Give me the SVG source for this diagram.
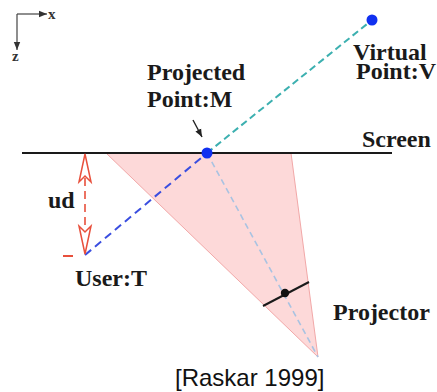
<svg xmlns="http://www.w3.org/2000/svg" width="437" height="392" viewBox="0 0 437 392">
<defs>
<style>
.lbl{font-family:"Liberation Serif","Times New Roman",serif;font-weight:bold;font-size:24px;fill:#1a1a1a}
.ax{font-family:"Liberation Serif","Times New Roman",serif;font-weight:bold;font-size:15px;fill:#333}
.cite{font-family:"Liberation Sans",Arial,sans-serif;font-size:24px;fill:#111}
.dot{fill:#1030f0}
</style>
<marker id="ah" viewBox="0 0 10 10" refX="10" refY="5" markerWidth="8" markerHeight="8" markerUnits="userSpaceOnUse" orient="auto">
<path d="M0,1 L10,5 L0,9 Z" fill="#333"/>
</marker>
<marker id="ptr" viewBox="0 0 10 10" refX="10" refY="5" markerWidth="8" markerHeight="8" markerUnits="userSpaceOnUse" orient="auto">
<path d="M0,1 L10,5 L0,9 Z" fill="#222"/>
</marker>
</defs>

<g id="axes">
<line x1="17" y1="14" x2="47" y2="14" stroke="#444" stroke-width="1.2" marker-end="url(#ah)"/>
<line x1="17" y1="14" x2="17" y2="50" stroke="#444" stroke-width="1.2" marker-end="url(#ah)"/>
<text class="ax" x="48" y="19">x</text>
<text class="ax" x="12" y="61">z</text>
</g>

<g id="projector-frustum">
<polygon points="106,153 291,153 318,357" fill="#fdd9d9" stroke="#f2a8a8" stroke-width="1"/>
</g>

<g id="screen">
<line x1="22" y1="153" x2="392" y2="153" stroke="#1a1a1a" stroke-width="2.2"/>
<text class="lbl" x="362" y="147">Screen</text>
</g>

<g id="connectors">
<line x1="207" y1="153" x2="372" y2="20" stroke="#3cb0b0" stroke-width="2" stroke-dasharray="7,4"/>
<line x1="85" y1="255" x2="207" y2="153" stroke="#3a4ee0" stroke-width="2" stroke-dasharray="8,5"/>
<line x1="207" y1="153" x2="318" y2="357" stroke="#a9c3e2" stroke-width="1.6" stroke-dasharray="6,4"/>
<line x1="193" y1="120" x2="202" y2="137" stroke="#222" stroke-width="1.4" marker-end="url(#ptr)"/>
</g>

<g id="ud-measure">
<line x1="85" y1="178" x2="85" y2="230" stroke="#e8503c" stroke-width="1.6" stroke-dasharray="8,5"/>
<path d="M85,154 L91,182 L85,176 L79,182 Z" fill="#fff" stroke="#e8503c" stroke-width="1.5"/>
<path d="M85,254 L91,226 L85,232 L79,226 Z" fill="#fff" stroke="#e8503c" stroke-width="1.5"/>
<line x1="63" y1="256" x2="73" y2="256" stroke="#e8503c" stroke-width="2"/>
<text class="lbl" x="48" y="208">ud</text>
</g>

<g id="user">
<text class="lbl" x="75" y="286">User:T</text>
</g>

<g id="point-m">
<circle class="dot" cx="207" cy="153" r="5.5"/>
<text class="lbl" x="147" y="80">Projected</text>
<text class="lbl" x="147" y="107">Point:M</text>
</g>

<g id="point-v">
<circle class="dot" cx="372" cy="20" r="5.5"/>
<text class="lbl" x="353" y="60">Virtual</text>
<text class="lbl" x="356" y="79">Point:V</text>
</g>

<g id="projector">
<line x1="263" y1="306" x2="309" y2="282" stroke="#1a1a1a" stroke-width="2"/>
<circle cx="285" cy="293" r="4.2" fill="#111"/>
<text class="lbl" x="333" y="320">Projector</text>
</g>

<text class="cite" x="175" y="386">[Raskar 1999]</text>
</svg>
